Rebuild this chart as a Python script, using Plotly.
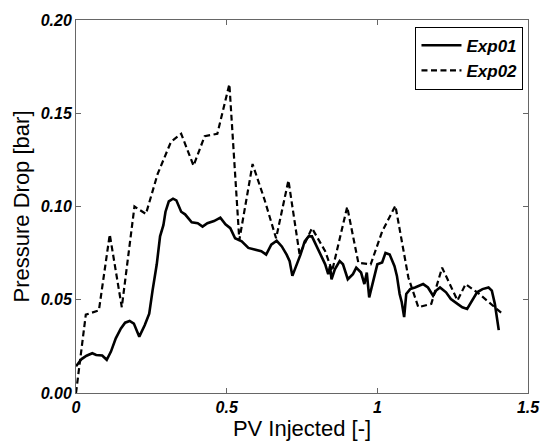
import plotly.graph_objects as go

# Exp01 (solid)
exp01_x = [0.000, 0.0185, 0.035, 0.054, 0.067, 0.087, 0.102, 0.116, 0.132, 0.149, 0.163, 0.178,
           0.192, 0.210, 0.228, 0.243, 0.254, 0.268, 0.279, 0.290, 0.297, 0.308, 0.322, 0.333,
           0.349, 0.362, 0.384, 0.404, 0.420, 0.436, 0.458, 0.479, 0.496, 0.512, 0.528, 0.550,
           0.572, 0.593, 0.615, 0.631, 0.648, 0.666, 0.683, 0.699, 0.709, 0.718, 0.729, 0.745,
           0.759, 0.772, 0.783, 0.794, 0.810, 0.827, 0.837, 0.843, 0.848, 0.859, 0.875, 0.886,
           0.902, 0.919, 0.930, 0.946, 0.957, 0.965, 0.973, 0.984, 1.000, 1.016, 1.027, 1.041,
           1.057, 1.065, 1.074, 1.081, 1.089, 1.096, 1.109, 1.125, 1.141, 1.152, 1.168, 1.185,
           1.195, 1.208, 1.228, 1.244, 1.266, 1.282, 1.298, 1.315, 1.331, 1.349, 1.369, 1.380,
           1.390, 1.403]
exp01_y = [0.0143, 0.0182, 0.0200, 0.0213, 0.0204, 0.0201, 0.0178, 0.0222, 0.0293, 0.0346, 0.0377, 0.0386,
           0.0372, 0.0302, 0.0363, 0.0425, 0.0549, 0.0690, 0.0840, 0.0900, 0.0972, 0.1028, 0.1042, 0.1033,
           0.0972, 0.0958, 0.0915, 0.0910, 0.0892, 0.0910, 0.0922, 0.0940, 0.0905, 0.0884, 0.0830, 0.0813,
           0.0778, 0.0769, 0.0760, 0.0742, 0.0795, 0.0816, 0.0786, 0.0742, 0.0707, 0.0628, 0.0672, 0.0742,
           0.0813, 0.0840, 0.0840, 0.0800, 0.0750, 0.0690, 0.0637, 0.0680, 0.0610, 0.0663, 0.0707, 0.0690,
           0.0610, 0.0637, 0.0672, 0.0646, 0.0584, 0.0646, 0.0513, 0.0584, 0.0690, 0.0700, 0.0751, 0.0742,
           0.0680, 0.0628, 0.0531, 0.0487, 0.0407, 0.0531, 0.0557, 0.0566, 0.0575, 0.0584, 0.0566, 0.0522,
           0.0549, 0.0566, 0.0540, 0.0504, 0.0478, 0.0460, 0.0451, 0.0496, 0.0540, 0.0557, 0.0566, 0.0549,
           0.0478, 0.0337]

# Exp02 (dashed)
exp02_x = [0.000, 0.0325, 0.076, 0.112, 0.152, 0.194, 0.232, 0.271, 0.315, 0.349, 0.390, 0.427,
           0.469, 0.509, 0.542, 0.586, 0.625, 0.664, 0.705, 0.742, 0.783, 0.827, 0.850, 0.900,
           0.937, 0.978, 1.016, 1.060, 1.103, 1.136, 1.179, 1.215, 1.266, 1.293, 1.336, 1.412]
exp02_y = [0.000, 0.042, 0.0443, 0.085, 0.046, 0.100, 0.096, 0.1175, 0.1346, 0.139, 0.1219, 0.1377,
           0.139, 0.1656, 0.082, 0.1228, 0.1040, 0.083, 0.114, 0.0742, 0.0884, 0.076, 0.0654, 0.0998,
           0.0698, 0.069, 0.0866, 0.1004, 0.0619, 0.046, 0.0478, 0.0672, 0.0496, 0.0584, 0.0534, 0.0429]

x_ticks = [0, 0.5, 1, 1.5]
x_tick_labels = ["0", "0.5", "1", "1.5"]
y_ticks = [0, 0.05, 0.10, 0.15, 0.20]
y_tick_labels = ["0.00", "0.05", "0.10", "0.15", "0.20"]

FONT = "Liberation Sans, Arial, sans-serif"
AX = "#666666"

fig = go.Figure()
fig.add_trace(go.Scatter(x=exp01_x, y=exp01_y, mode="lines", name="Exp01",
                         line=dict(color="black", width=2.6)))
fig.add_trace(go.Scatter(x=exp02_x, y=exp02_y, mode="lines", name="Exp02",
                         line=dict(color="black", width=2.2, dash="6px,3.5px")))

axis_common = dict(showgrid=False, zeroline=False, showline=True, linecolor=AX, linewidth=1,
                   mirror="ticks", ticks="inside", ticklen=5, tickcolor=AX, tickwidth=1,
                   tickfont=dict(family=FONT, size=16, color="black", weight="bold", style="italic"))

fig.update_xaxes(range=[0, 1.5], tickvals=x_ticks, ticktext=x_tick_labels,
                 title=dict(text="PV Injected [-]", font=dict(family=FONT, size=22, color="black"), standoff=2),
                 **axis_common)
fig.update_yaxes(range=[0, 0.2], tickvals=y_ticks, ticktext=y_tick_labels,
                 title=dict(text="Pressure Drop [bar]", font=dict(family=FONT, size=22, color="black"), standoff=4),
                 **axis_common)

fig.update_layout(
    width=552, height=446,
    margin=dict(l=76, r=15, t=19, b=49),
    plot_bgcolor="white", paper_bgcolor="white",
    showlegend=True,
    legend=dict(x=0.99, y=0.982, xanchor="right", yanchor="top",
                bordercolor="black", borderwidth=1, bgcolor="white",
                font=dict(family=FONT, size=17, color="black", weight="bold", style="italic"),
                tracegroupgap=0, itemwidth=40),
)

fig.write_html("out.html")
